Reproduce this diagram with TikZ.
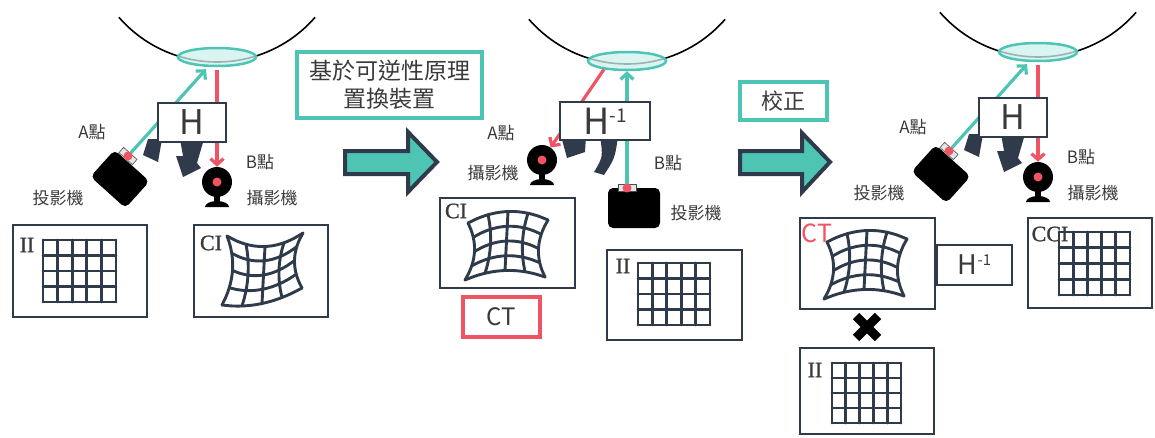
\documentclass[tikz,border=0pt]{standalone}
\usepackage{fontspec}
\newfontfamily\cjk{Noto Sans CJK TC}
\newfontfamily\tagfont[FakeBold=1.2]{Liberation Serif}
\usetikzlibrary{arrows.meta,shapes.geometric}

\definecolor{cteal}{HTML}{4EC5B4}
\definecolor{clens}{HTML}{CDF1EC}
\definecolor{cred}{HTML}{EE5463}
\definecolor{cnavy}{HTML}{2F3B4A}
\definecolor{cink}{HTML}{3A3A3A}

% H with a raised -1
\newcommand{\Hinv}[2]{H\raisebox{#2}{\fontsize{#1}{#1}\selectfont -1}}

% plain 5x4 grid between two corners
\newcommand{\sqgrid}[4]{%
  \foreach \k in {0,...,5}
    \draw[gridline] ({#1+\k*(#3-#1)/5},#2) -- ({#1+\k*(#3-#1)/5},#4);
  \foreach \k in {0,...,4}
    \draw[gridline] (#1,{#2+\k*(#4-#2)/4}) -- (#3,{#2+\k*(#4-#2)/4});
}

% bent 4x4 grid: four corners, then bows top/bottom/left/right
\def\setbows#1/#2/#3/#4\relax{\def\gbt{#1}\def\gbb{#2}\def\gbl{#3}\def\gbr{#4}}
\newcommand{\warpgrid}[9]{%
  \def\gxa{#1}\def\gya{#2}\def\gxb{#3}\def\gyb{#4}%
  \def\gxc{#5}\def\gyc{#6}\def\gxd{#7}\def\gyd{#8}%
  \setbows#9\relax
  \foreach \k in {0,...,4}{
    \draw[gridline] plot[smooth,domain=0:1,samples=9,variable=\t] ({gx(\k/4,\t)},{gy(\k/4,\t)});
    \draw[gridline] plot[smooth,domain=0:1,samples=9,variable=\t] ({gx(\t,\k/4)},{gy(\t,\k/4)});
  }%
}

\tikzset{
  frame/.style={draw=cnavy, line width=2.7pt, fill=white, inner sep=0pt, text=cink},
  gridline/.style={draw=cnavy, line width=2.9pt, line cap=round, line join=round},
  tag/.style={font=\tagfont\fontsize{22}{22}\selectfont, text=cink, inner sep=0pt},
  lbl/.style={font=\cjk\fontsize{17}{17}\selectfont, text=cink, inner sep=0pt},
  notebox/.style={draw=cteal, line width=4pt, fill=white, text=cink, inner sep=0pt},
  ctbox/.style={draw=cred, line width=4pt, minimum width=77pt, minimum height=40pt,
    inner sep=0pt, font=\cjk\fontsize{24}{24}\selectfont, text=cink},
  eyeline/.style={draw=black, line width=1.6pt},
  lens/.style={ellipse, draw=cteal, line width=2.5pt, fill=clens, fill opacity=.75,
    minimum width=78pt, minimum height=18pt, inner sep=0pt},
  cam/.style={circle, fill=black, minimum size=30pt, inner sep=0pt},
  projbox/.style={rectangle, rounded corners=5pt, fill=black, inner sep=0pt},
  lensbar/.style={rectangle, draw=gray!60!black, fill=gray!20, line width=.6pt,
    minimum width=18pt, minimum height=7pt, inner sep=0pt},
  dot/.style={fill=cred},
  ray/.style={line width=3.2pt, -{Straight Barb[length=6pt,width=13pt]}},
  turn/.style={fill=cnavy},
  bigarrow/.style={fill=cteal, draw=cnavy, line width=4pt, line join=miter},
  xmark/.style={draw=black, line width=9pt},
  pics/rig/.style={code={
    \draw[eyeline] (0,-125) ++(139:130) arc[start angle=139,end angle=41,radius=130];
    \node[lens] (-lens) at (0,0) {};
    \node[projbox, rotate=-42, minimum width=47pt, minimum height=36pt] (-proj) at (-97,122) {};
    \node[lensbar, rotate=-42] (-plens) at (-89,99) {};
    \node[cam] (-cam) at (0,125) {};
    \fill (-cam.center) ++(-3,14) rectangle ++(6,6);
    \fill (-cam.center) ++(-12,25) arc[start angle=180,end angle=360,x radius=12,y radius=6] -- cycle;
    \draw[ray, cteal, shorten >=3pt] (-plens) -- (-lens);
    \draw[ray, cred, shorten <=3pt] (-lens) -- (-cam);
    \fill[turn] (-69,82) -- (-55,82) -- (-59,105) -- (-74,98) -- cycle;
    \fill[turn] (-37,82) -- (-13,82) -- (-20,106) -- (-16,111) -- (-34,120) -- (-41,99) -- (-34,99) -- cycle;
    \node[frame, minimum width=68pt, minimum height=39pt, font=\cjk\fontsize{34}{34}\selectfont] (-hbox) at (-25,65.5) {H};
    \fill[dot] (-plens) circle[radius=4.5pt];
    \fill[dot] (-cam) circle[radius=4.5pt];
    \node[lbl] (-a) at (-125,75) {A點};
    \node[lbl] (-b) at (43,105) {B點};
    \node[lbl] (-pl) at (-159,141) {投影機};
    \node[lbl] (-cl) at (55,141) {攝影機};
  }}
}

\begin{document}
\begin{tikzpicture}[x=1pt,y=-1pt,
  declare function={
    gx(\gu,\gv)=(1-\gv)*((1-\gu)*\gxa+\gu*\gxb)+\gv*((1-\gu)*\gxc+\gu*\gxd)+((1-\gu)*(\gbl)+\gu*(\gbr))*4*\gv*(1-\gv);
    gy(\gu,\gv)=(1-\gv)*((1-\gu)*\gya+\gu*\gyb)+\gv*((1-\gu)*\gyc+\gu*\gyd)+((1-\gv)*(\gbt)+\gv*(\gbb))*4*\gu*(1-\gu);
  }]
\useasboundingbox (0,0) rectangle (1155,437);

% left: projector at A, camera at B
\pic (left) at (217,57) {rig};
\node[frame, minimum width=134pt, minimum height=92pt] (iiA) at (80,271) {};
\node[tag] (iiAtag) at (27,245) {II};
\sqgrid{43}{240}{116}{302}
\node[frame, minimum width=134pt, minimum height=92pt] (ciA) at (261,271) {};
\node[tag] (ciAtag) at (211,243) {CI};
\warpgrid{227}{236}{303}{233}{222}{305}{302}{288}{12/7/8/-8}

\node[notebox, minimum width=185pt, minimum height=66pt, align=center,
  font=\cjk\fontsize{23}{28}\selectfont] (swap) at (389.5,85) {基於可逆性原理\\置換裝置};
\draw[bigarrow] (345,151) -- (408,151) -- (408,132) -- (437,162) -- (408,192) -- (408,174) -- (345,174) -- cycle;

% middle: roles swapped
\draw[eyeline] (627,-66) ++(139:130) arc[start angle=139,end angle=41,radius=130];
\node[lens] (mlens) at (627,61) {};
\node[projbox, minimum width=52pt, minimum height=40pt] (mproj) at (634,208) {};
\node[lensbar] (mplens) at (627,188) {};
\node[cam] (mcam) at (542,160) {};
\fill (mcam.center) ++(-3,14) rectangle ++(6,6);
\fill (mcam.center) ++(-12,25) arc[start angle=180,end angle=360,x radius=12,y radius=6] -- cycle;
\draw[ray, cteal] (mplens) -- (mlens);
\draw[ray, cred] (mlens.200) -- (mcam);
\fill[turn] (561,136) -- (586,136) -- (585,152) -- (567,158) -- cycle;
\fill[turn] (600,136) -- (618,136) .. controls (615,158) .. (604,175) -- (594,172) .. controls (603,157) .. (600,136) -- cycle;
\node[frame, minimum width=90pt, minimum height=38pt, font=\cjk\fontsize{36}{36}\selectfont] (minv) at (605,121) {\Hinv{19}{12pt}};
\fill[dot] (mplens) circle[radius=4.5pt];
\fill[dot] (mcam) circle[radius=4.5pt];
\node[lbl] (ma) at (501,133) {A點};
\node[lbl] (mcl) at (493,173) {攝影機};
\node[lbl] (mb) at (668,163) {B點};
\node[lbl] (mpl) at (696,213) {投影機};

\node[frame, minimum width=135pt, minimum height=90pt] (ciB) at (507.5,243) {};
\node[tag] (ciBtag) at (456,211) {CI};
\warpgrid{468}{223}{548}{220}{465}{280}{545}{277}{-10/-8/8/-8}
\node[ctbox] (ctB) at (501.5,317) {CT};
\node[frame, minimum width=135pt, minimum height=90pt] (iiB) at (674.5,295) {};
\node[tag] (iiBtag) at (623,266) {II};
\sqgrid{638}{263}{710}{325}

\node[notebox, minimum width=87pt, minimum height=38pt, font=\cjk\fontsize{22}{22}\selectfont] (fix) at (783.5,101) {校正};
\draw[bigarrow] (740,151) -- (802,151) -- (802,133) -- (830,162) -- (802,192) -- (802,174) -- (740,174) -- cycle;

% right: corrected
\pic (right) at (1038,52) {rig};
\node[frame, minimum width=135pt, minimum height=91pt] (ctC) at (867.5,263.5) {};
\node[tag, text=cred, font=\cjk\fontsize{25}{25}\selectfont] (ctCtag) at (817,233) {CT};
\warpgrid{827}{242}{907}{239}{824}{299}{904}{296}{-10/-8/8/-8}
\node[frame, minimum width=75pt, minimum height=40pt, font=\cjk\fontsize{27}{27}\selectfont] (cinv) at (974.5,265) {\Hinv{15}{9pt}};
\node[frame, minimum width=124pt, minimum height=90pt] (cci) at (1090,263) {};
\sqgrid{1059}{232}{1130}{295}
\node[tag] (ccitag) at (1050,234) {CCI};
\coordinate (nope) at (867,327);
\draw[xmark] (nope) ++(-11,-11) -- ++(22,22) (nope) ++(-11,11) -- ++(22,-22);
\node[frame, minimum width=134pt, minimum height=86pt] (iiC) at (867,391) {};
\node[tag] (iiCtag) at (815,370) {II};
\sqgrid{832}{363}{901}{423}
\end{tikzpicture}
\end{document}
